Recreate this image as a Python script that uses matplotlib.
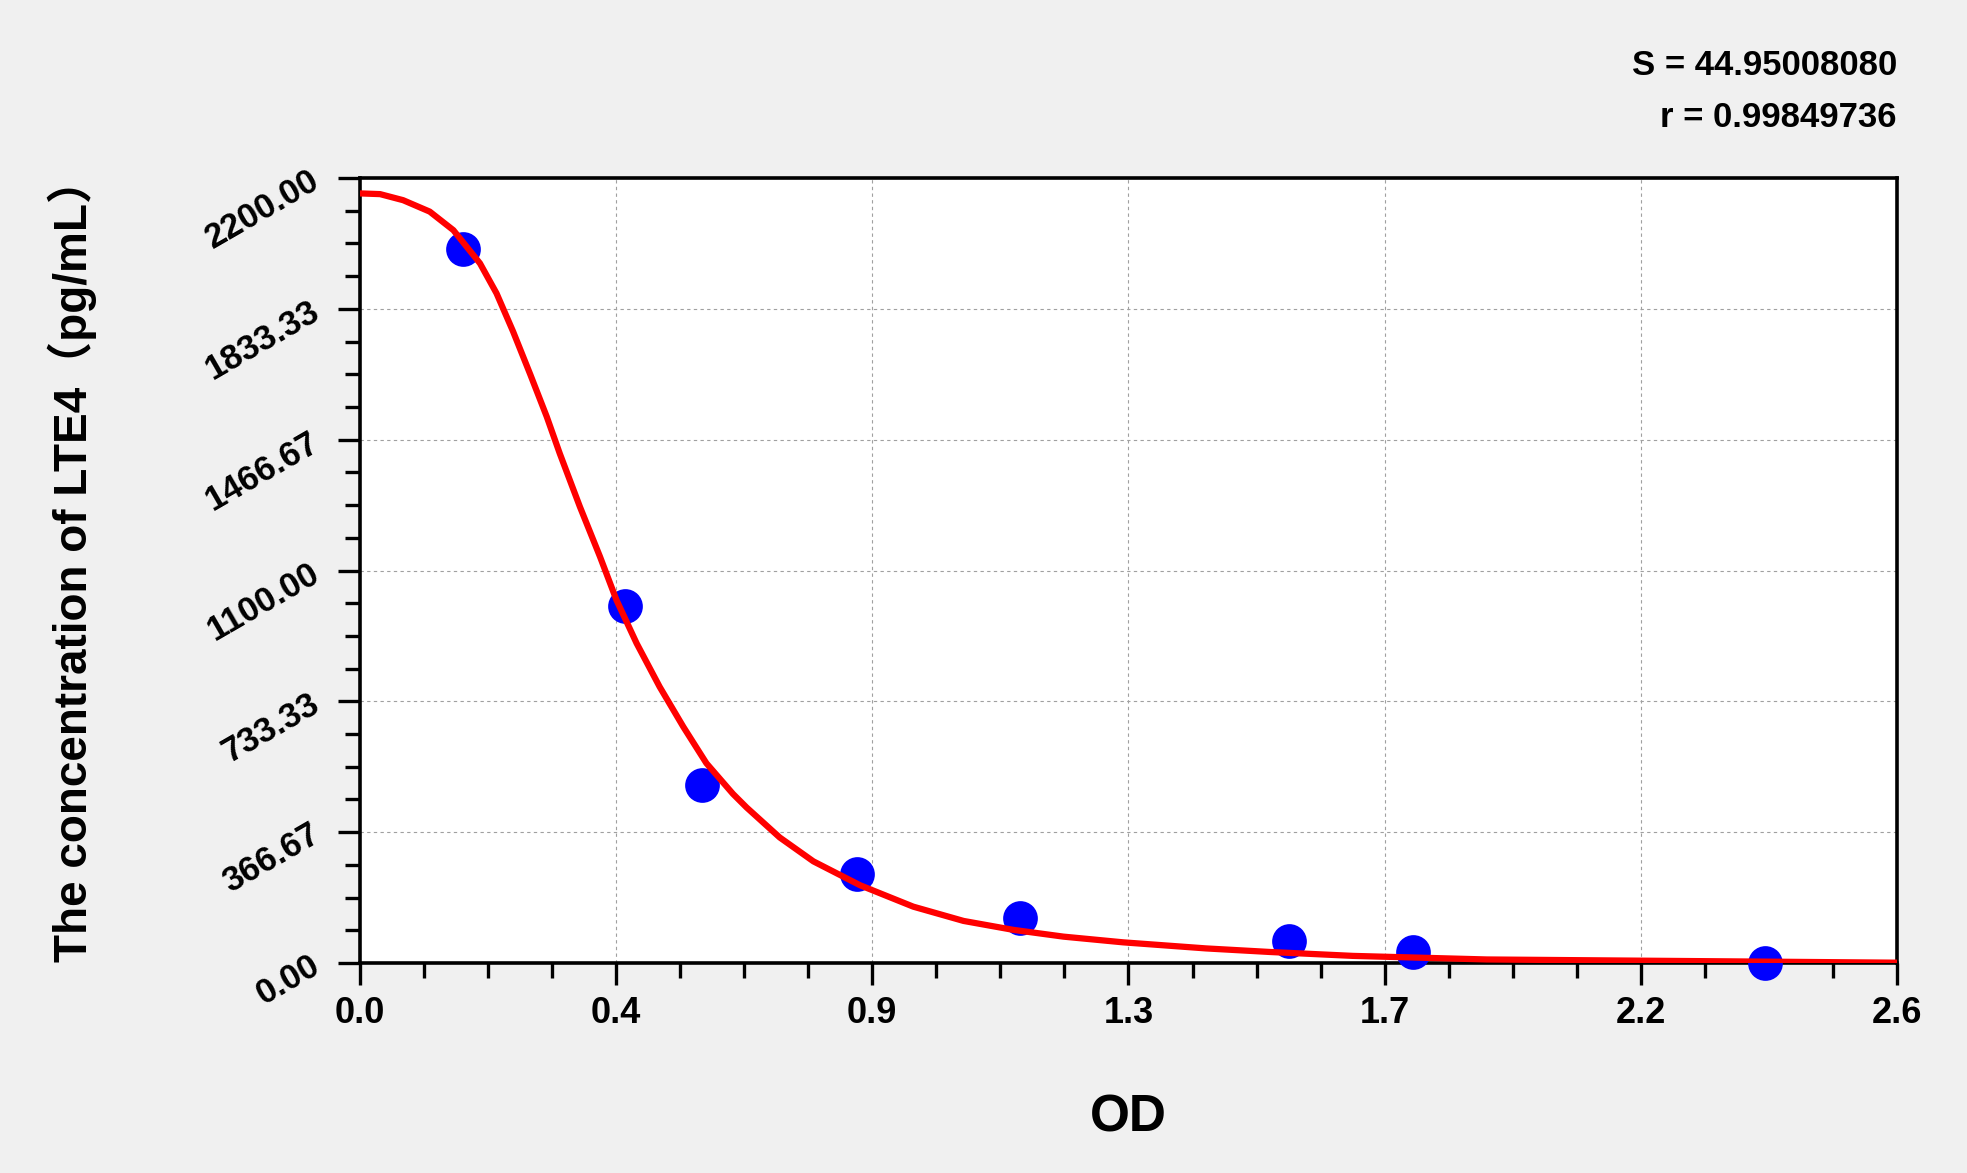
import matplotlib
matplotlib.use("Agg")
import matplotlib.pyplot as plt
from matplotlib import font_manager
from matplotlib.ticker import AutoMinorLocator
import numpy as np

# standards: OD (x) vs concentration (y)
od_points = [0.175, 0.449, 0.578, 0.841, 1.116, 1.571, 1.782, 2.377]
conc_points = [2000, 1000, 500, 250, 125, 62.5, 31.25, 0]

# fitted curve
curve_od = [0.000, 0.034, 0.073, 0.118, 0.158, 0.203, 0.231, 0.259, 0.288,
            0.316, 0.338, 0.372, 0.406, 0.434, 0.468, 0.507, 0.547, 0.586,
            0.631, 0.654, 0.710, 0.767, 0.846, 0.936, 1.021, 1.105, 1.190,
            1.291, 1.431, 1.539, 1.680, 1.906, 2.370, 2.600]
curve_conc = [2157, 2155, 2138, 2106, 2054, 1961, 1877, 1770, 1650,
              1531, 1428, 1279, 1139, 1017, 896, 774, 662, 560,
              474, 436, 352, 285, 218, 158, 118, 93, 74,
              58, 41, 31, 20, 10, 4, 1]

x_tick_labels = ["0.0", "0.4", "0.9", "1.3", "1.7", "2.2", "2.6"]
y_tick_labels = ["0.00", "366.67", "733.33", "1100.00", "1466.67", "1833.33", "2200.00"]

s_text = "S = 44.95008080"
r_text = "r = 0.99849736"
x_label = "OD"
y_label = "The concentration of LTE4（pg/mL）"


def has_font(name):
    try:
        font_manager.findfont(font_manager.FontProperties(family=name),
                              fallback_to_default=False)
        return True
    except ValueError:
        return False


BASE = "Liberation Sans" if has_font("Liberation Sans") else "DejaVu Sans"

fig = plt.figure(figsize=(19.67, 11.73), dpi=100, facecolor="#f0f0f0")
ax = fig.add_axes([0.1830, 0.1790, 0.7814, 0.6692])
ax.set_facecolor("#ffffff")

ax.plot(od_points, conc_points, "o", color="#0000ff", markersize=25,
        markeredgewidth=0, clip_on=False, zorder=3)
ax.plot(curve_od, curve_conc, "-", color="#ff0000", linewidth=4.5,
        solid_capstyle="butt", solid_joinstyle="round", zorder=4)

ax.set_xlim(0, 2.6)
ax.set_ylim(0, 2200)
ax.set_xticks(np.linspace(0, 2.6, len(x_tick_labels)))
ax.set_yticks(np.linspace(0, 2200, len(y_tick_labels)))
ax.xaxis.set_minor_locator(AutoMinorLocator(4))
ax.yaxis.set_minor_locator(AutoMinorLocator(4))

ax.set_xticklabels(x_tick_labels, fontsize=26, fontweight="bold", family=BASE)
ax.set_yticklabels(y_tick_labels, fontsize=25, fontweight="bold", family=BASE,
                   rotation=30, rotation_mode="anchor", ha="right", va="center")

ax.tick_params(which="major", direction="out", length=16, width=2.4, color="black")
ax.tick_params(which="minor", direction="out", length=11, width=2.4, color="black")
ax.tick_params(axis="x", which="major", pad=8)
ax.tick_params(axis="y", which="major", pad=15)

for side in ["left", "right", "top", "bottom"]:
    ax.spines[side].set_linewidth(2.6)
    ax.spines[side].set_color("black")

ax.grid(True, which="major", color="#a0a0a0", linestyle=(0, (3, 3)), linewidth=0.8)
ax.set_axisbelow(True)

fig.text(0.5 * (0.1830 + 0.9644), 1 - 1132 / 1173, x_label, ha="center",
         va="baseline", fontsize=37, fontweight="bold", family=BASE)
fig.text(72 / 1967, 1 - 560 / 1173, y_label, rotation=90, ha="center", va="center",
         fontsize=33, fontweight="bold", family=[BASE, "Noto Sans CJK SC"])

fig.text(0.9644, 1 - 75 / 1173, s_text, ha="right", va="baseline",
         fontsize=25, fontweight="bold", family=BASE)
fig.text(0.9644, 1 - 127 / 1173, r_text, ha="right", va="baseline",
         fontsize=25, fontweight="bold", family=BASE)

fig.savefig("out.png", dpi=100, facecolor=fig.get_facecolor())
